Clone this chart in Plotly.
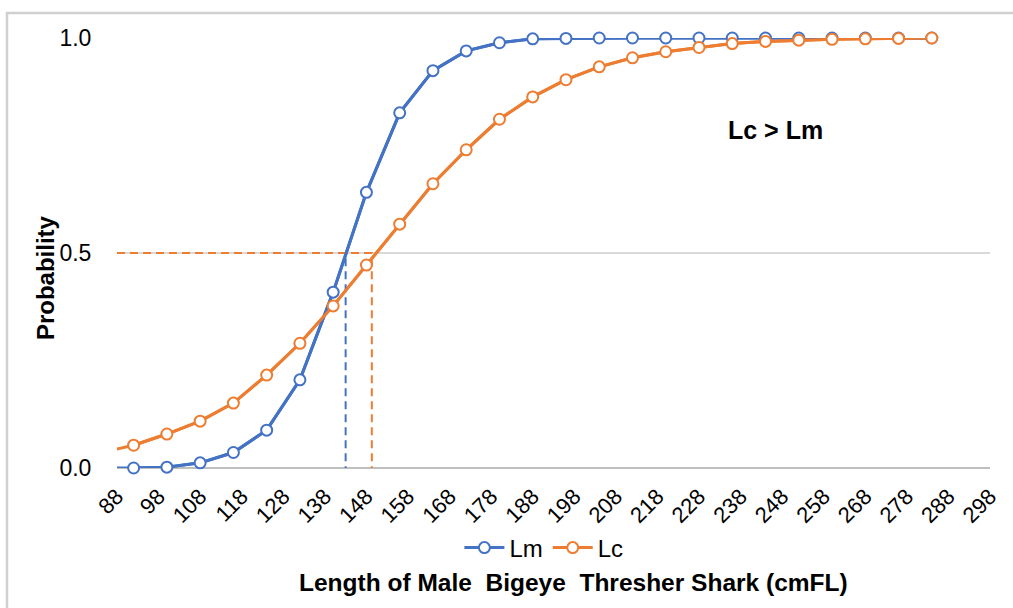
import plotly.graph_objects as go

# Data
lengths = [84, 92, 100, 108, 116, 124, 132, 140, 148, 156, 164, 172, 180, 188,
           196, 204, 212, 220, 228, 236, 244, 252, 260, 268, 276, 284]
lm_prob = [0.0, 0.0, 0.002, 0.012, 0.036, 0.088, 0.205, 0.409, 0.641, 0.826,
           0.924, 0.970, 0.989, 0.998, 0.999, 1.0, 1.0, 1.0, 1.0, 1.0,
           1.0, 1.0, 1.0, 1.0, 1.0, 1.0]
lc_prob = [0.035, 0.053, 0.079, 0.109, 0.151, 0.216, 0.290, 0.377, 0.472, 0.567,
           0.661, 0.740, 0.811, 0.863, 0.903, 0.933, 0.954, 0.968, 0.978, 0.987,
           0.992, 0.995, 0.997, 0.998, 0.999, 1.0]
lm50 = 143.0
lc50 = 149.3
x_min, x_max = 88, 298
tick_vals = list(range(88, 299, 10))
y_ticks = [0.0, 0.5, 1.0]
y_tick_text = ["0.0", "0.5", "1.0"]

BLUE = "#4472C4"
ORANGE = "#ED7D31"
FONT = "Arial, 'Liberation Sans', sans-serif"

fig = go.Figure()

# Full lines (clipped at the plot edge)
for name, ys, col in [("Lm", lm_prob, BLUE), ("Lc", lc_prob, ORANGE)]:
    fig.add_trace(go.Scatter(x=lengths, y=ys, mode="lines", showlegend=False,
                             line=dict(color=col, width=3), hoverinfo="skip"))

# Dashed L50 guides
for l50, col in [(lm50, BLUE), (lc50, ORANGE)]:
    fig.add_trace(go.Scatter(x=[x_min, l50, l50], y=[0.5, 0.5, 0.0], mode="lines",
                             showlegend=False, hoverinfo="skip",
                             line=dict(color=col, width=2, dash="8px,5px")))

# Lines + markers for visible points
for name, ys, col in [("Lm", lm_prob, BLUE), ("Lc", lc_prob, ORANGE)]:
    xs = [x for x in lengths if x >= x_min]
    yv = [y for x, y in zip(lengths, ys) if x >= x_min]
    fig.add_trace(go.Scatter(x=xs, y=yv, mode="lines+markers", name=name,
                             cliponaxis=False,
                             line=dict(color=col, width=3),
                             marker=dict(symbol="circle", size=11, color="white",
                                         line=dict(color=col, width=2))))

fig.update_layout(
    width=1013, height=608,
    margin=dict(l=117, r=23, t=38, b=140),
    paper_bgcolor="white", plot_bgcolor="white",
    font=dict(family=FONT, size=22, color="#000000"),
    showlegend=True,
    legend=dict(orientation="h", x=0.489, y=-0.186, xanchor="center", yanchor="middle",
                font=dict(size=24), itemwidth=40, tracegroupgap=0,
                bgcolor="rgba(0,0,0,0)"),
    xaxis=dict(range=[x_min, x_max], tickmode="array", tickvals=tick_vals,
               ticktext=[str(v) for v in tick_vals], tickangle=-45,
               showgrid=False, zeroline=False, showline=False,
               ticks="outside", ticklen=6, tickcolor="rgba(0,0,0,0)",
               tickfont=dict(size=22, family=FONT)),
    yaxis=dict(range=[0, 1], tickmode="array", tickvals=y_ticks, ticktext=y_tick_text,
               showgrid=True, gridcolor="#d9d9d9", gridwidth=1.5,
               zeroline=True, zerolinecolor="#bfbfbf", zerolinewidth=2,
               showline=False, ticks="outside", ticklen=20,
               tickcolor="rgba(0,0,0,0)", tickfont=dict(size=23, family=FONT)),
    annotations=[
        dict(text="<b>Length of Male  Bigeye  Thresher Shark (cmFL)</b>", xref="paper", yref="paper",
             x=0.523, y=-0.267, xanchor="center", yanchor="middle", showarrow=False,
             font=dict(size=24.5, family=FONT)),
        dict(text="<b>Probability</b>", xref="paper", yref="paper", textangle=-90,
             x=-0.0825, y=0.444, xanchor="center", yanchor="middle", showarrow=False,
             font=dict(size=24, family=FONT)),
        dict(text="<b>Lc > Lm</b>", xref="x", yref="y", x=246.5, y=0.786,
             xanchor="center", yanchor="middle", showarrow=False,
             font=dict(size=25, family=FONT)),
    ],
    shapes=[dict(type="rect", xref="paper", yref="paper", x0=-0.126, y0=-0.5,
                 x1=1.2, y1=1.058, line=dict(color="#d0d0d0", width=2.5), layer="below")],
)

fig.write_html("out.html", config={"displayModeBar": False},
               post_script="document.body.style.margin='0';")
